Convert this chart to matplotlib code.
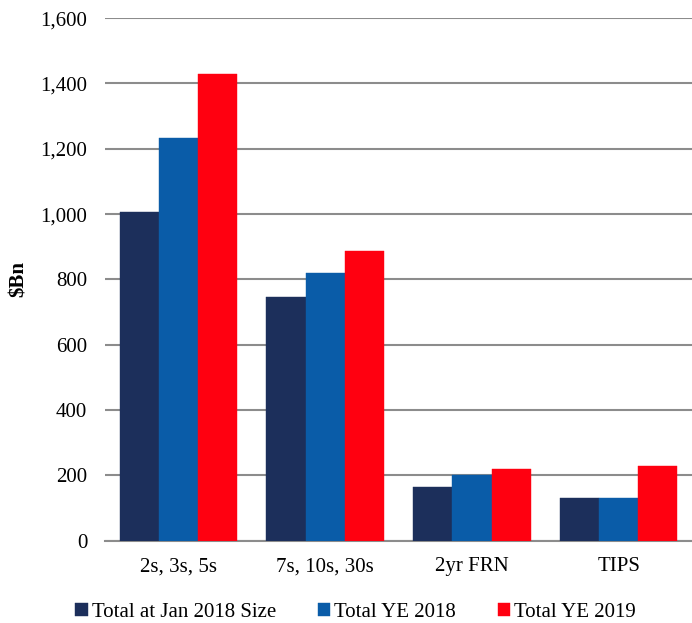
import numpy as np
import matplotlib.pyplot as plt

categories = ['2s, 3s, 5s', '7s, 10s, 30s', '2yr FRN', 'TIPS']
series_names = ['Total at Jan 2018 Size', 'Total YE 2018', 'Total YE 2019']
jan2018 = [1005, 745, 165, 131]
ye2018 = [1233, 820, 202, 131]
ye2019 = [1428, 887, 220, 229]
colors = ['#1c2f5b', '#0a5ca8', '#ff0010']
yticks = [0, 200, 400, 600, 800, 1000, 1200, 1400, 1600]

plt.rcParams['font.family'] = ['Liberation Serif', 'DejaVu Serif']

fig = plt.figure(figsize=(6.92, 6.23), dpi=100)
ax = fig.add_axes([0.152, 0.132, 0.848, 0.839])

x = np.arange(len(categories))
w = 0.267
for i, (vals, name) in enumerate(zip([jan2018, ye2018, ye2019], series_names)):
    ax.bar(x + (i - 1) * w, vals, w, color=colors[i], label=name, zorder=3,
           edgecolor=colors[i], linewidth=0.3)

ax.set_ylim(0, 1600)
ax.set_xlim(-0.5, len(categories) - 0.5)
ax.set_yticks(yticks)
ax.set_yticklabels([f'{v:,}' for v in yticks], fontsize=15)
ax.set_xticks(x)
ax.set_xticklabels(categories, fontsize=15)
ax.tick_params(axis='y', length=0, pad=13)
ax.tick_params(axis='x', length=0, pad=12)
ax.grid(axis='y', color='#8c8c8c', linewidth=1.5, zorder=0)
for s in ['top', 'right', 'left']:
    ax.spines[s].set_visible(False)
ax.spines['bottom'].set_color('#8c8c8c')
ax.spines['bottom'].set_linewidth(1.5)
ax.set_ylabel('$Bn', fontsize=15, fontweight='bold', labelpad=8)

fig.legend(loc='lower center', bbox_to_anchor=(0.514, -0.028), ncol=3, frameon=False,
           fontsize=15, handlelength=0.6, handleheight=0.6, handletextpad=0.2,
           columnspacing=2.0)

fig.savefig('out.png', dpi=100)
